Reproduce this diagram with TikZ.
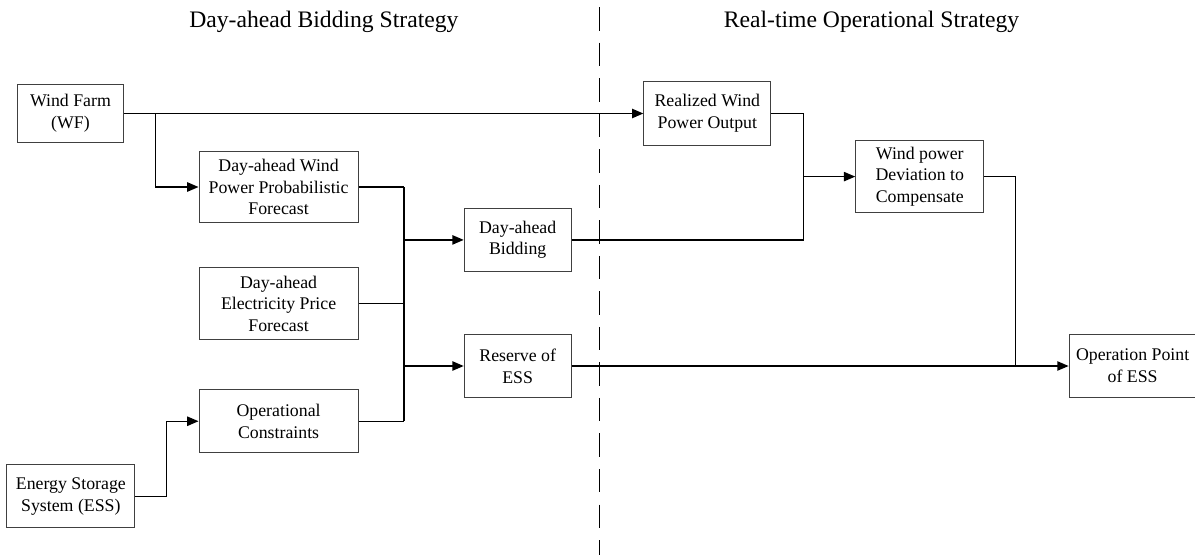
\documentclass[tikz,border=0pt]{standalone}
\usepackage{fontspec}
\setmainfont{Liberation Serif}
\usetikzlibrary{arrows.meta,positioning,calc}
\tikzstyle{blockbox} = [rectangle, minimum height=1.67cm, text centered, align=center, draw=black!75, line width=0.75pt, font=\fontsize{13.4}{16.3}\selectfont, inner sep=2pt]
\tikzstyle{arrow} = [line width=1.05pt, -{Triangle[length=8.5pt,width=7pt]}]
\tikzstyle{wire} = [line width=1.05pt]
\tikzstyle{heading} = [font=\fontsize{17.8}{21}\selectfont, anchor=base]

\begin{document}
\begin{tikzpicture}
\useasboundingbox (0,0) rectangle (31.62,-14.68);
% Headings and divider
\node[heading] (dahead) at (8.57,-0.72) {Day-ahead Bidding Strategy};
\node[heading] (rthead) at (23.06,-0.72) {Real-time Operational Strategy};
\coordinate (divtop) at (15.87,-0.19);
\coordinate (divbot) at (15.87,-14.68);
\draw[line width=0.95pt, dash pattern=on 0.62cm off 0.32cm] (divtop) -- (divbot);

% Inputs
\node[blockbox, minimum width=2.83cm, minimum height=1.55cm] (wf) at (1.865,-3.003) {Wind Farm\\(WF)};
\node[blockbox, minimum width=4.21cm, minimum height=1.90cm, right=1.96cm of wf, yshift=-1.945cm] (dwpf) {Day-ahead Wind\\Power Probabilistic\\Forecast};
\node[blockbox, minimum width=4.21cm, minimum height=1.90cm, below=1.16cm of dwpf] (epf) {Day-ahead\\Electricity Price\\Forecast};
\node[blockbox, minimum width=4.21cm, below=1.30cm of epf] (oc) {Operational\\Constraints};
\node[blockbox, minimum width=3.39cm, below left=0.29cm and 1.67cm of oc] (ess) {Energy Storage\\System (ESS)};

% Day-ahead results
\node[blockbox, minimum width=2.83cm, right=2.78cm of dwpf, yshift=-1.40cm] (bid) {Day-ahead\\Bidding};
\node[blockbox, minimum width=2.83cm, below=1.64cm of bid] (res) {Reserve of\\ESS};

% Real-time
\node[blockbox, minimum width=3.36cm, right=13.73cm of wf] (real) {Realized Wind\\Power Output};
\node[blockbox, minimum width=3.39cm, minimum height=1.90cm, right=2.22cm of real, yshift=-1.67cm] (dev) {Wind power\\Deviation to\\Compensate};
\node[blockbox, minimum width=3.36cm, right=13.15cm of res] (op) {Operation Point\\of ESS};

% Wind farm branches
\draw[arrow] (wf) -- (real);
\coordinate (wfsplit) at ($(wf.east)+(0.82,0)$);
\draw[arrow] (wfsplit) |- (dwpf);

% Forecast bus
\coordinate (bustop) at ($(dwpf.east)+(1.19,0)$);
\draw[wire] (dwpf.east) -- (bustop);
\draw[wire] (epf.east) -- (epf.east -| bustop);
\draw[wire] (oc.east) -- (oc.east -| bustop);
\draw[line width=1.6pt] (bustop) -- (bustop |- oc.east);
\draw[arrow] (bustop |- bid) -- (bid);
\draw[arrow] (bustop |- res) -- (res);

% Storage constraints
\coordinate (esssplit) at ($(ess.east)+(0.82,0)$);
\draw[arrow] (ess.east) -- (esssplit) |- (oc);

% Real-time links
\coordinate (devjoin) at ($(real.east)+(0.85,0)$);
\draw[wire] (real.east) -- (devjoin) |- (bid.east);
\draw[arrow] (devjoin |- dev) -- (dev);
\coordinate (opjoin) at ($(dev.east)+(0.82,0)$);
\draw[wire] (dev.east) -- (opjoin) -- (opjoin |- op);
\draw[arrow] (res) -- (op);
\end{tikzpicture}
\end{document}
